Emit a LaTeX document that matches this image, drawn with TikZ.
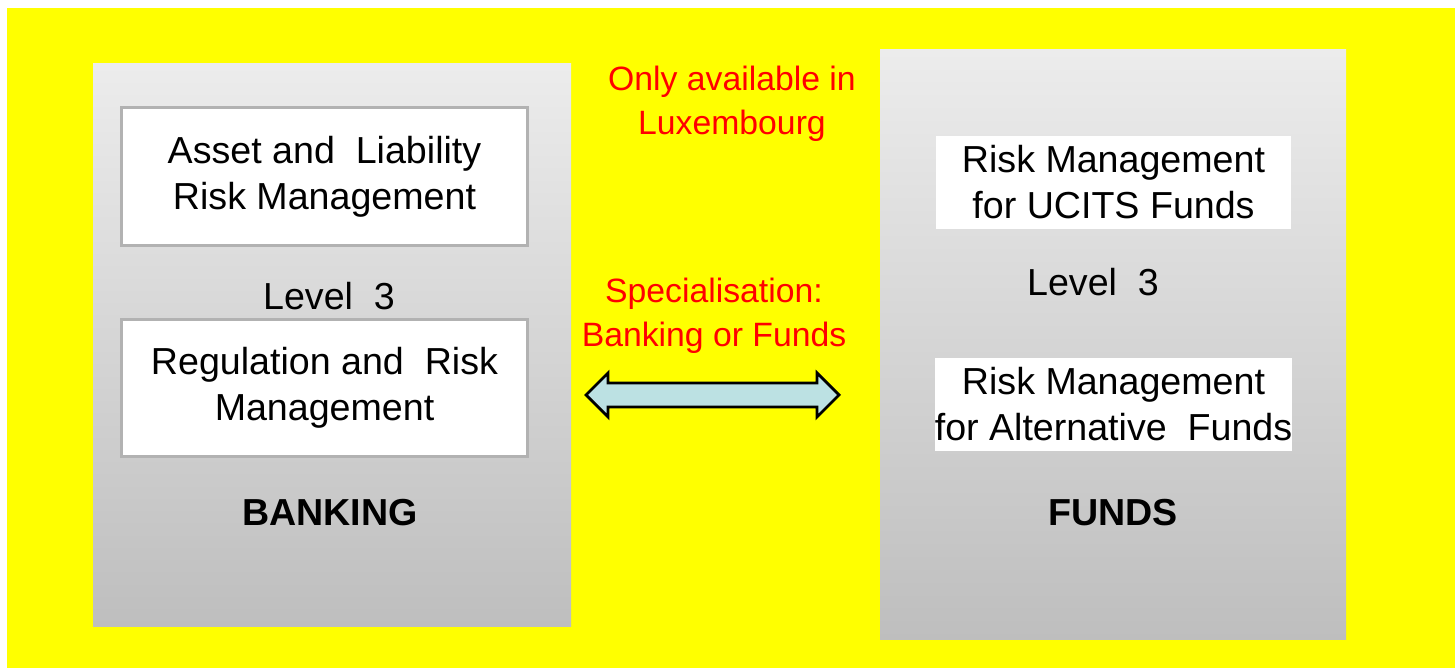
\documentclass[tikz,border=0pt]{standalone}
\usepackage{fontspec}
\setmainfont{Liberation Sans}
\definecolor{bgyellow}{RGB}{255,255,0}
\definecolor{paneltop}{RGB}{236,236,236}
\definecolor{panelbottom}{RGB}{190,190,190}
\definecolor{boxline}{RGB}{178,178,178}
\definecolor{arrowfill}{RGB}{188,225,227}
\definecolor{labelred}{RGB}{255,0,0}
\tikzset{
    panel/.style={top color=paneltop, bottom color=panelbottom},
    whitebox/.style={fill=white, inner sep=0pt, align=center, font=\fontsize{10.7}{13.1}\selectfont},
    plaintext/.style={inner sep=0pt, align=center, font=\fontsize{10.7}{13.1}\selectfont},
    redtext/.style={inner sep=0pt, align=center, text=labelred, font=\fontsize{9.6}{12.6}\selectfont}
}

\begin{document}
\begin{tikzpicture}
    \useasboundingbox (0, 0) rectangle (14.55, 6.68);
    \fill [bgyellow] (0.07, 0) rectangle (14.55, 6.60);

    % two panels
    \shade [panel] (0.93, 0.41) rectangle (5.71, 6.04);
    \shade [panel] (8.80, 0.28) rectangle (13.46, 6.18);

    % banking side
    \node (alm) [whitebox, draw=boxline, thick, minimum width=4.06cm, minimum height=1.38cm] at (3.245, 4.915) {Asset and\ \ Liability\\Risk Management};
    \node (levelb) [plaintext] at (3.29, 3.72) {Level\ \ 3};
    \node (reg) [whitebox, draw=boxline, thick, minimum width=4.06cm, minimum height=1.37cm] at (3.245, 2.80) {Regulation and\ \ Risk\\Management};
    \node (banking) [plaintext, font=\fontsize{10.7}{13.1}\selectfont\bfseries] at (3.30, 1.55) {BANKING};

    % funds side
    \node (ucits) [whitebox, minimum width=3.55cm, minimum height=0.93cm] at (11.135, 4.855) {Risk Management\\for UCITS Funds};
    \node (levelf) [plaintext] at (10.93, 3.86) {Level\ \ 3};
    \node (alt) [whitebox, minimum width=3.55cm, minimum height=0.93cm] at (11.135, 2.635) {Risk Management\\for Alternative\ \ Funds};
    \node (funds) [plaintext, font=\fontsize{10.7}{13.1}\selectfont\bfseries] at (11.13, 1.55) {FUNDS};

    % middle
    \node (lux) [redtext] at (7.32, 5.64) {Only available in\\Luxembourg};
    \node (spec) [redtext] at (7.14, 3.52) {Specialisation:\\Banking or Funds};
    \draw [thick, fill=arrowfill] (5.86, 2.73) -- (6.08, 2.95) -- (6.08, 2.85) -- (8.17, 2.85) -- (8.17, 2.95) -- (8.39, 2.73)
        -- (8.17, 2.51) -- (8.17, 2.61) -- (6.08, 2.61) -- (6.08, 2.51) -- cycle;
\end{tikzpicture}
\end{document}
